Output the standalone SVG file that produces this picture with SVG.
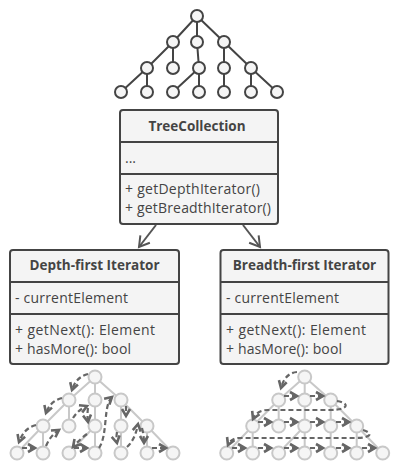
<svg xmlns="http://www.w3.org/2000/svg" width="400" height="470" viewBox="0 0 400 470">
<defs>
<style>
.box{fill:#f4f4f4;stroke:#444;stroke-width:2}
.div{stroke:#444;stroke-width:2}
.t{font-family:"Open Sans","Liberation Sans",sans-serif;font-size:13.5px;font-weight:bold;fill:#444;text-anchor:middle}
.b{font-family:"Open Sans","Liberation Sans",sans-serif;font-size:14px;fill:#444}
.tn{fill:#f5f5f5;stroke:#444;stroke-width:2}
.te{stroke:#444;stroke-width:2;fill:none}
.ln{fill:#f5f5f5;stroke:#c8c8c8;stroke-width:2}
.le{stroke:#c8c8c8;stroke-width:2;fill:none}
.dash{fill:none;stroke:#666;stroke-width:2.2;stroke-dasharray:5 3;marker-end:url(#chev)}
.arr{fill:none;stroke:#555;stroke-width:2;marker-end:url(#open)}
</style>
<marker id="chev" markerUnits="userSpaceOnUse" markerWidth="12" markerHeight="12" refX="7" refY="4" orient="auto" overflow="visible">
<path d="M0,0 L7,4 L0,8" fill="none" stroke="#666" stroke-width="2.6" stroke-linejoin="miter"/>
</marker>
<marker id="open" markerUnits="userSpaceOnUse" markerWidth="14" markerHeight="14" refX="10" refY="6" orient="auto" overflow="visible">
<path d="M0,0 L10,6 L0,12" fill="none" stroke="#555" stroke-width="2"/>
</marker>
</defs>
<rect width="400" height="470" fill="#fff"/>

<g id="top-tree">
<path class="te" d="M197,16L173,42M197,16L197,42M197,16L224,42M173,42L147,68M173,42L173,68M197,42L199,68M224,42L224,68M224,42L251,68M147,68L121,92M147,68L147,92M199,68L173,92M199,68L199,92M224,68L224,92M251,68L251,92M251,68L277,92"/>
<circle class="tn" cx="197" cy="16" r="6"/>
<circle class="tn" cx="173" cy="42" r="6"/><circle class="tn" cx="197" cy="42" r="6"/><circle class="tn" cx="224" cy="42" r="6"/>
<circle class="tn" cx="147" cy="68" r="6"/><circle class="tn" cx="173" cy="68" r="6"/><circle class="tn" cx="199" cy="68" r="6"/><circle class="tn" cx="224" cy="68" r="6"/><circle class="tn" cx="251" cy="68" r="6"/>
<circle class="tn" cx="121" cy="92" r="6"/><circle class="tn" cx="147" cy="92" r="6"/><circle class="tn" cx="173" cy="92" r="6"/><circle class="tn" cx="199" cy="92" r="6"/><circle class="tn" cx="224" cy="92" r="6"/><circle class="tn" cx="251" cy="92" r="6"/><circle class="tn" cx="277" cy="92" r="6"/>
</g>

<g id="TreeCollection">
<rect class="box" x="120" y="110" width="158" height="114" rx="3"/>
<line class="div" x1="120" y1="142" x2="278" y2="142"/>
<line class="div" x1="120" y1="174" x2="278" y2="174"/>
<text class="t" x="197" y="131">TreeCollection</text>
<text class="b" x="125" y="163">...</text>
<text class="b" x="125" y="194" textLength="135">+ getDepthIterator()</text>
<text class="b" x="125" y="213" textLength="146">+ getBreadthIterator()</text>
</g>

<g id="DepthFirstIterator">
<rect class="box" x="10" y="250" width="169" height="114" rx="3"/>
<line class="div" x1="10" y1="282" x2="179" y2="282"/>
<line class="div" x1="10" y1="314" x2="179" y2="314"/>
<text class="t" x="94.5" y="270">Depth-first Iterator</text>
<text class="b" x="15" y="303" textLength="113">- currentElement</text>
<text class="b" x="15" y="335" textLength="140">+ getNext(): Element</text>
<text class="b" x="15" y="354" textLength="116">+ hasMore(): bool</text>
</g>

<g id="BreadthFirstIterator">
<rect class="box" x="220.5" y="250" width="168" height="114" rx="3"/>
<line class="div" x1="220.5" y1="282" x2="388.5" y2="282"/>
<line class="div" x1="220.5" y1="314" x2="388.5" y2="314"/>
<text class="t" x="304.5" y="270">Breadth-first Iterator</text>
<text class="b" x="226" y="303" textLength="113">- currentElement</text>
<text class="b" x="226" y="335" textLength="140">+ getNext(): Element</text>
<text class="b" x="226" y="354" textLength="116">+ hasMore(): bool</text>
</g>

<g id="connectors">
<path class="arr" d="M156,225 L139,247"/>
<path class="arr" d="M243,225 L260,247"/>
</g>

<g id="depth-tree">
<path class="le" d="M95,377L69,400M95,377L95,400M95,377L121,400M69,400L43,426M69,400L69,426M95,400L95,426M121,400L121,426M121,400L147,426M43,426L17,453M43,426L43,453M95,426L69,453M95,426L95,453M121,426L121,453M147,426L147,453M147,426L173,453"/>
<circle class="ln" cx="95" cy="377" r="6.5"/>
<circle class="ln" cx="69" cy="400" r="6.5"/><circle class="ln" cx="95" cy="400" r="6.5"/><circle class="ln" cx="121" cy="400" r="6.5"/>
<circle class="ln" cx="43" cy="426" r="6.5"/><circle class="ln" cx="69" cy="426" r="6.5"/><circle class="ln" cx="95" cy="426" r="6.5"/><circle class="ln" cx="121" cy="426" r="6.5"/><circle class="ln" cx="147" cy="426" r="6.5"/>
<circle class="ln" cx="17" cy="453" r="6.5"/><circle class="ln" cx="43" cy="453" r="6.5"/><circle class="ln" cx="69" cy="453" r="6.5"/><circle class="ln" cx="95" cy="453" r="6.5"/><circle class="ln" cx="121" cy="453" r="6.5"/><circle class="ln" cx="147" cy="453" r="6.5"/><circle class="ln" cx="173" cy="453" r="6.5"/>
<path class="dash" d="M88,374 Q76,377 72,390"/>
<path class="dash" d="M62,398 Q50,401 46,413"/>
<path class="dash" d="M36,425 Q24,428 19,442"/>
<path class="dash" d="M22,448 L35,448"/>
<path class="dash" d="M46,446 Q50,436 59,430"/>
<path class="dash" d="M73,418 Q78,410 87,406"/>
<path class="dash" d="M88,408 Q87,415 88,422"/>
<path class="dash" d="M87,434 Q79,440 73,447"/>
<path class="dash" d="M74,448 L87,448"/>
<path class="dash" d="M99,448 C108,435 103,405 112,397"/>
<path class="dash" d="M126,406 L126,416"/>
<path class="dash" d="M117,432 Q116,438 117,443"/>
<path class="dash" d="M127,447 Q135,440 138,424"/>
<path class="dash" d="M142,428 Q144,436 144,443"/>
<path class="dash" d="M152,448 L166,448"/>
</g>

<g id="breadth-tree">
<path class="le" d="M304.7,377L278.7,400M304.7,377L304.7,400M304.7,377L330.7,400M278.7,400L252.7,426M278.7,400L278.7,426M304.7,400L304.7,426M330.7,400L330.7,426M330.7,400L356.7,426M252.7,426L226.7,453M252.7,426L252.7,453M304.7,426L278.7,453M304.7,426L304.7,453M330.7,426L330.7,453M356.7,426L356.7,453M356.7,426L382.7,453"/>
<circle class="ln" cx="304.7" cy="377" r="6.5"/>
<circle class="ln" cx="278.7" cy="400" r="6.5"/><circle class="ln" cx="304.7" cy="400" r="6.5"/><circle class="ln" cx="330.7" cy="400" r="6.5"/>
<circle class="ln" cx="252.7" cy="426" r="6.5"/><circle class="ln" cx="278.7" cy="426" r="6.5"/><circle class="ln" cx="304.7" cy="426" r="6.5"/><circle class="ln" cx="330.7" cy="426" r="6.5"/><circle class="ln" cx="356.7" cy="426" r="6.5"/>
<circle class="ln" cx="226.7" cy="453" r="6.5"/><circle class="ln" cx="252.7" cy="453" r="6.5"/><circle class="ln" cx="278.7" cy="453" r="6.5"/><circle class="ln" cx="304.7" cy="453" r="6.5"/><circle class="ln" cx="330.7" cy="453" r="6.5"/><circle class="ln" cx="356.7" cy="453" r="6.5"/><circle class="ln" cx="382.7" cy="453" r="6.5"/>
<path class="dash" d="M297,372 Q285,373 281,388"/>
<path class="dash" d="M284,396 L297,396"/>
<path class="dash" d="M310,396 L323,396"/>
<path class="dash" d="M337,401 C350,403 349,410 330,410 L268,410 Q257,410 253,419"/>
<path class="dash" d="M258,422 L271,422"/>
<path class="dash" d="M284,422 L297,422"/>
<path class="dash" d="M310,422 L323,422"/>
<path class="dash" d="M336,422 L349,422"/>
<path class="dash" d="M363,430 C373,433 372,438 355,438 L240,438 Q231,438 228,445"/>
<path class="dash" d="M232,448 L245,448"/>
<path class="dash" d="M258,448 L271,448"/>
<path class="dash" d="M284,448 L297,448"/>
<path class="dash" d="M310,448 L323,448"/>
<path class="dash" d="M336,448 L349,448"/>
<path class="dash" d="M362,448 L375,448"/>
</g>
</svg>
